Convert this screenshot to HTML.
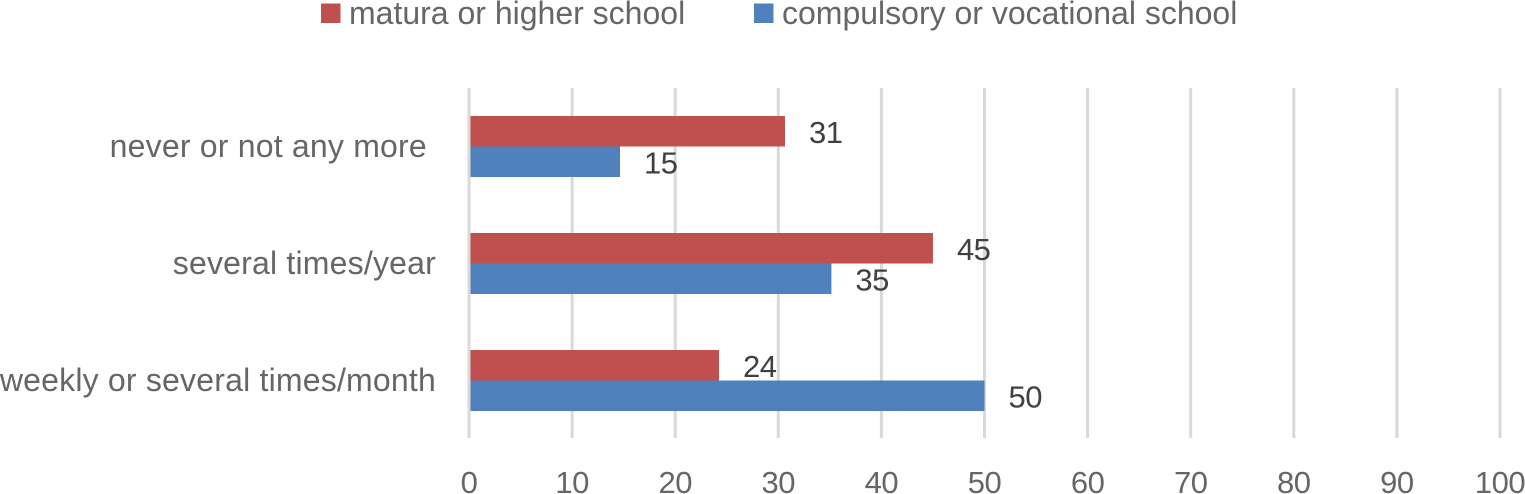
<!DOCTYPE html>
<html>
<head>
<meta charset="utf-8">
<title>Frequency by school level</title>
<style>
html,body{margin:0;padding:0;background:#fff;width:1525px;height:494px;overflow:hidden}
svg{display:block;font-family:"Liberation Sans",sans-serif}
text{white-space:pre}
</style>
</head>
<body>
<svg id="chart" xmlns="http://www.w3.org/2000/svg" width="1525" height="494" viewBox="0 0 1525 494"></svg>
<script>
const categories = ["never or not any more ", "several times/year", "weekly or several times/month"];
const maturaValues = [30.65, 45, 24.25];
const compulsoryValues = [14.65, 35.15, 50];
const xTicks = [0, 10, 20, 30, 40, 50, 60, 70, 80, 90, 100];
const maturaName = "matura or higher school";
const compulsoryName = "compulsory or vocational school";

const svg = document.getElementById('chart');
const NS = 'http://www.w3.org/2000/svg';
const plotLeft = 469, plotRight = 1500, plotTop = 88, plotBottom = 438;
const bandTop = 88, bandStep = 117, barH = 30.5;
const x = v => plotLeft + (v / 100) * (plotRight - plotLeft);
const bandCenter = i => bandTop + bandStep * i + bandStep / 2;

function make(tag, attrs, text) {
  const el = document.createElementNS(NS, tag);
  for (const k in attrs) el.setAttribute(k, attrs[k]);
  if (text !== undefined) el.textContent = text;
  svg.appendChild(el);
  return el;
}

xTicks.forEach(t => {
  const line = make('line', {x1: x(t), x2: x(t), y1: plotTop, y2: plotBottom, stroke: '#d9d9d9', 'stroke-width': 3});
  
  
  const label = make('text', {x: x(t), y: 493, 'text-anchor': 'middle', 'font-size': 31, 'letter-spacing': -0.5, fill: '#666666'}, String(t));
  
  
});

categories.forEach((c, i) => {
  const cy = bandCenter(i);
  const label = make('text', {x: 436, y: cy + 10.5, 'text-anchor': 'end', 'font-size': 32, 'letter-spacing': 0.2, fill: '#666666'}, c);
  
  

  const red = make('rect', {x: plotLeft + 1.5, y: cy - barH, width: x(maturaValues[i]) - plotLeft - 1.5, height: barH, fill: '#c0504d'});
  
  
  const blue = make('rect', {x: plotLeft + 1.5, y: cy, width: x(compulsoryValues[i]) - plotLeft - 1.5, height: barH, fill: '#4f81bd'});
  
  

  const redVal = make('text', {x: x(maturaValues[i]) + 24, y: cy - barH / 2 + 11.5, 'font-size': 31, 'letter-spacing': -0.5, fill: '#404040'}, String(Math.round(maturaValues[i])));
  
  
  const blueVal = make('text', {x: x(compulsoryValues[i]) + 24, y: cy + barH / 2 + 11.5, 'font-size': 31, 'letter-spacing': -0.5, fill: '#404040'}, String(Math.round(compulsoryValues[i])));
  
  
});

const swatchA = make('rect', {x: 321, y: 3.5, width: 19.5, height: 19.5, fill: '#c0504d'});


const textA = make('text', {x: 349, y: 24, 'font-size': 32, fill: '#666666'}, maturaName);


const swatchB = make('rect', {x: 754, y: 3.5, width: 19.5, height: 19.5, fill: '#4f81bd'});


const textB = make('text', {x: 782, y: 24, 'font-size': 32, fill: '#666666'}, compulsoryName);


</script>
</body>
</html>
